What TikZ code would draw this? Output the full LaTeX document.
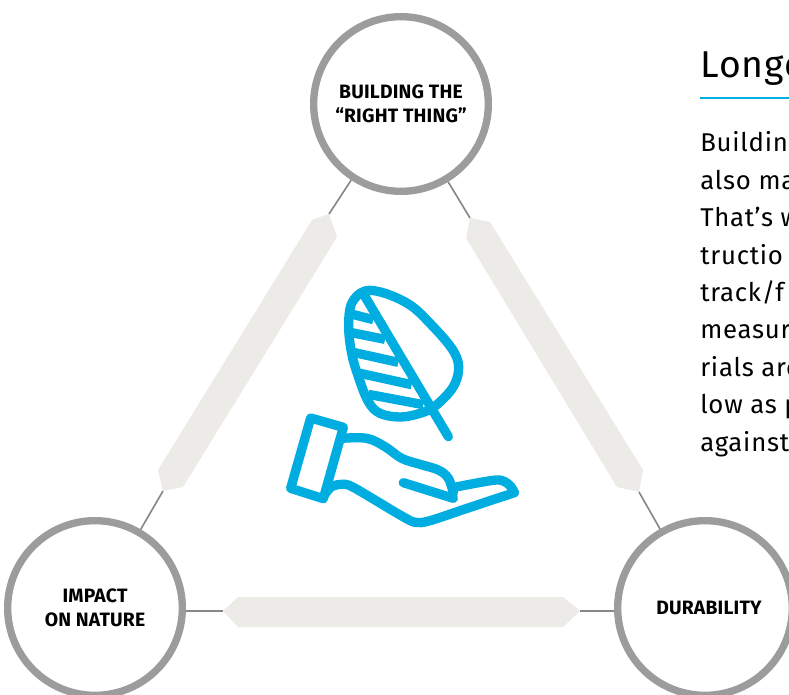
\documentclass[tikz,border=0pt]{standalone}
\usepackage{xcolor}
\usepackage{fontspec}
\usepackage{tikz}
\setmainfont{Fira Sans}[LetterSpace=3]
\newfontfamily\labelfont{Fira Sans}[LetterSpace=1]
\definecolor{ringgray}{HTML}{9C9C9C}
\definecolor{bargray}{HTML}{ECEBE7}
\definecolor{linkgray}{HTML}{868686}
\definecolor{iconblue}{HTML}{00ADE0}
\tikzset{
	topic/.style={draw=ringgray, line width=5.5pt, circle, fill=white, minimum size=131pt, inner sep=0pt, align=center, font=\labelfont\bfseries\fontsize{14.5}{18}\selectfont},
	bar/.style={fill=bargray},
	link/.style={draw=linkgray, line width=1.2pt},
	icon/.style={draw=iconblue, line width=7pt, line cap=round, line join=round},
	hatch/.style={draw=iconblue, line width=7pt},
	bodyline/.style={anchor=base west, inner sep=0pt, font=\fontsize{19.3}{24}\selectfont},
}

\begin{document}
\begin{tikzpicture}[x=0.75pt, y=-0.75pt]
				\useasboundingbox (0, 0) rectangle (789, 695);
				\clip (0, 0) rectangle (789, 695);
				\fill[white] (0, 0) rectangle (789, 695);
				% the three topics
				\node[topic] (right) at (401, 104) {BUILDING THE\\“RIGHT THING”};
				\node[topic] (impact) at (95, 608) {IMPACT\\ON NATURE};
				\node[topic] (durability) at (705, 608) {\hspace{6pt}\raisebox{-2pt}{DURABILITY}};
				% bars between them
				\fill[bar] (329, 214) -- (312, 220) -- (158, 470) -- (163, 491) -- (183, 487) -- (337, 237) -- cycle;
				\fill[bar] (470, 218) -- (490, 222) -- (643, 470) -- (639, 492) -- (617, 487) -- (466, 238) -- cycle;
				\fill[bar] (223, 611) -- (238, 597) -- (563, 597) -- (580, 611) -- (563, 627) -- (238, 627) -- cycle;
				\coordinate (a1) at (329, 214);
				\coordinate (a2) at (163, 491);
				\coordinate (b1) at (470, 218);
				\coordinate (b2) at (639, 492);
				\coordinate (c1) at (223, 611);
				\coordinate (c2) at (580, 611);
				\draw[link] (right) to (a1);
				\draw[link] (impact) to (a2);
				\draw[link] (right) to (b1);
				\draw[link] (durability) to (b2);
				\draw[link] (impact.east |- c1) to (c1);
				\draw[link] (durability.west |- c2) to (c2);
				% leaf and hand
				\begin{scope}[shift={(270, 270)}, x=0.25pt, y=-0.25pt]
					\draw[icon] plot[smooth cycle, tension=0.6] coordinates {(285,63) (345,70) (420,105) (480,160) (545,235) (566,290) (550,350) (497,407) (450,430) (390,441) (330,430) (295,395) (265,320) (245,250) (236,170) (245,100)};
					\draw[icon] (278, 68) to (535, 500);
					\draw[hatch] (240, 131) to (310, 149);
					\draw[hatch] (240, 187) to (345, 208);
					\draw[hatch] (250, 247) to (385, 277);
					\draw[hatch] (270, 310) to (425, 344);
					\draw[hatch] (295, 373) to (460, 404);
					\draw[icon] (122, 444) -- (220, 472) -- (160, 686) -- (62, 655) -- cycle;
					\draw[icon] plot[smooth, tension=0.6] coordinates {(215,505) (290,505) (345,530) (395,565) (450,583) (505,600) (535,625) (550,670)};
					\draw[icon] (400, 638) to (550, 685);
					\draw[icon] plot[smooth, tension=0.5] coordinates {(553,652) (680,630) (718,645) (733,668)};
					\draw[icon] plot[smooth, tension=0.5] coordinates {(733,668) (600,712) (480,752) (435,757) (385,732) (250,652) (215,643) (185,650) (165,672)};
				\end{scope}
				% cut off text on the right
				\node[anchor=base west, inner sep=0pt, font=\fontsize{28}{30}\selectfont] (title) at (700, 78) {Longe};
				\coordinate (ruleend) at (789, 98);
				\draw[iconblue, line width=1.9pt] (700, 98) to (ruleend);
				\node[bodyline] (l1) at (700, 152) {Building};
				\node[bodyline] (l2) at (700, 189.4) {also ma};
				\node[bodyline] (l3) at (700, 226.8) {That’s w};
				\node[bodyline] (l4) at (700, 264.2) {tructio};
				\node[bodyline] (l5) at (700, 301.6) {track/f};
				\node[bodyline] (l6) at (700, 339) {measur};
				\node[bodyline] (l7) at (700, 376.4) {rials are};
				\node[bodyline] (l8) at (700, 413.8) {low as p};
				\node[bodyline] (l9) at (700, 451.2) {against};
		\end{tikzpicture}
\end{document}
